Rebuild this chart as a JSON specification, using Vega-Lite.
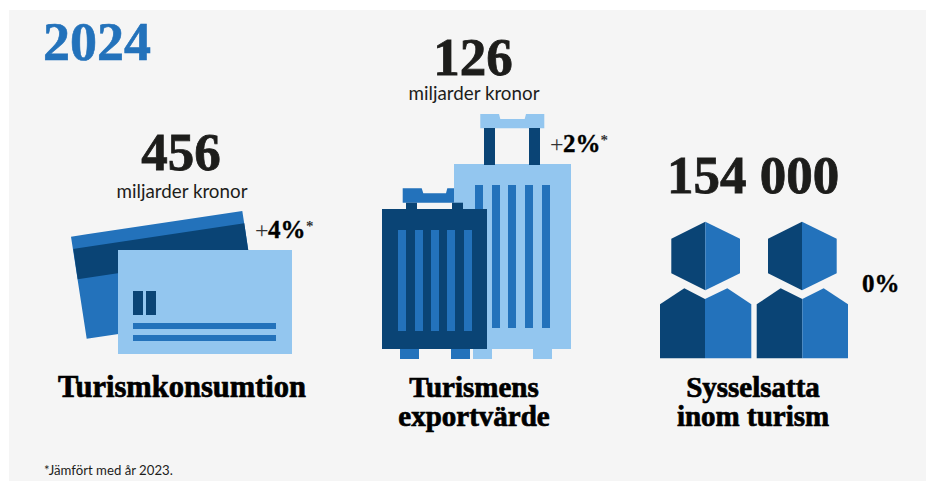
{
"$schema":"https://vega.github.io/schema/vega-lite/v6.json",
"width":926,"height":481,"padding":0,
"autosize":{"type":"fit","contains":"padding"},
"background":"#ffffff",
"view":{"stroke":null},
"config":{"axis":{"domain":false}},
"layer":[
{"data":{"values":[{"part":"panel","x":9,"x2":926,"y":10,"y2":481}]},
 "mark":{"type":"rect","color":"#f5f5f5"},
 "encoding":{
  "x":{"field":"x","type":"quantitative","scale":{"domain":[0,926],"nice":false,"zero":false},"axis":null},
  "x2":{"field":"x2"},
  "y":{"field":"y","type":"quantitative","scale":{"domain":[481,0],"nice":false,"zero":false},"axis":null},
  "y2":{"field":"y2"}}},
{"data":{"values":[
 {"s":"card-back","tone":"mid","x":71,"y":236.7,"y2":236.7},
 {"s":"card-back","tone":"mid","x":86.7,"y":234.35,"y2":338.7},
 {"s":"card-back","tone":"mid","x":242.3,"y":211,"y2":315.4},
 {"s":"card-back","tone":"mid","x":258,"y":313,"y2":313},
 {"s":"card-stripe","tone":"dark","x":73.3,"y":249,"y2":249},
 {"s":"card-stripe","tone":"dark","x":77.7,"y":248.3,"y2":279.3},
 {"s":"card-stripe","tone":"dark","x":244.3,"y":223.3,"y2":254.3},
 {"s":"card-stripe","tone":"dark","x":248.7,"y":253.7,"y2":253.7},
 {"s":"handle-big","tone":"light","x":480.3,"y":114,"y2":128.3},
 {"s":"handle-big","tone":"light","x":499,"y":114,"y2":128.3},
 {"s":"handle-big","tone":"light","x":500.3,"y":119,"y2":128.3},
 {"s":"handle-big","tone":"light","x":524.7,"y":119,"y2":128.3},
 {"s":"handle-big","tone":"light","x":526,"y":114,"y2":128.3},
 {"s":"handle-big","tone":"light","x":544.3,"y":114,"y2":128.3},
 {"s":"handle-small","tone":"mid","x":402.7,"y":188.3,"y2":202.7},
 {"s":"handle-small","tone":"mid","x":421.7,"y":188.3,"y2":202.7},
 {"s":"handle-small","tone":"mid","x":423.3,"y":193.3,"y2":202.7},
 {"s":"handle-small","tone":"mid","x":446,"y":193.3,"y2":202.7},
 {"s":"handle-small","tone":"mid","x":447.3,"y":188.3,"y2":202.7},
 {"s":"handle-small","tone":"mid","x":467,"y":188.3,"y2":202.7},
 {"s":"head1-l","tone":"dark","x":671.3,"y":238.7,"y2":273.3},
 {"s":"head1-l","tone":"dark","x":705.3,"y":221.7,"y2":290.3},
 {"s":"head1-r","tone":"mid","x":705.3,"y":221.7,"y2":290.3},
 {"s":"head1-r","tone":"mid","x":740,"y":238.7,"y2":273.3},
 {"s":"head2-l","tone":"dark","x":768,"y":238.7,"y2":273.3},
 {"s":"head2-l","tone":"dark","x":802,"y":221.7,"y2":290.3},
 {"s":"head2-r","tone":"mid","x":802,"y":221.7,"y2":290.3},
 {"s":"head2-r","tone":"mid","x":836.7,"y":238.7,"y2":273.3},
 {"s":"body1-l","tone":"dark","x":660,"y":304.3,"y2":358.3},
 {"s":"body1-l","tone":"dark","x":684.3,"y":288.3,"y2":358.3},
 {"s":"body1-l","tone":"dark","x":705,"y":299,"y2":358.3},
 {"s":"body1-r","tone":"mid","x":705,"y":299,"y2":358.3},
 {"s":"body1-r","tone":"mid","x":727.3,"y":288.3,"y2":358.3},
 {"s":"body1-r","tone":"mid","x":751.3,"y":304.3,"y2":358.3},
 {"s":"body2-l","tone":"dark","x":756.7,"y":304.3,"y2":358.3},
 {"s":"body2-l","tone":"dark","x":780.7,"y":288.3,"y2":358.3},
 {"s":"body2-l","tone":"dark","x":802.3,"y":299,"y2":358.3},
 {"s":"body2-r","tone":"mid","x":802.3,"y":299,"y2":358.3},
 {"s":"body2-r","tone":"mid","x":823.7,"y":288.3,"y2":358.3},
 {"s":"body2-r","tone":"mid","x":848,"y":304.3,"y2":358.3}
 ]},
 "mark":{"type":"area","orient":"vertical","interpolate":"linear"},
 "encoding":{
  "x":{"field":"x","type":"quantitative","axis":null},
  "y":{"field":"y","type":"quantitative","axis":null},
  "y2":{"field":"y2"},
  "detail":{"field":"s"},
  "color":{"field":"tone","type":"nominal","legend":null,"scale":{"domain":["dark","mid","light"],"range":["#0a4475","#2372bb","#93c6ef"]}}}},
{"data":{"values":[
 {"tone":"light","x":118,"x2":292,"y":250,"y2":354},
 {"tone":"dark","x":133,"x2":143,"y":291,"y2":315},
 {"tone":"dark","x":146,"x2":156,"y":291,"y2":315},
 {"tone":"mid","x":133,"x2":276,"y":323,"y2":329},
 {"tone":"mid","x":133,"x2":276,"y":335,"y2":341},
 {"tone":"light","x":454,"x2":571,"y":164,"y2":349},
 {"tone":"dark","x":484,"x2":495,"y":128,"y2":165},
 {"tone":"dark","x":529,"x2":540,"y":128,"y2":165},
 {"tone":"mid","x":475,"x2":483,"y":185,"y2":328},
 {"tone":"mid","x":492,"x2":500,"y":185,"y2":328},
 {"tone":"mid","x":508,"x2":516,"y":185,"y2":328},
 {"tone":"mid","x":525,"x2":533,"y":185,"y2":328},
 {"tone":"mid","x":542,"x2":550,"y":185,"y2":328},
 {"tone":"light","x":473,"x2":492,"y":349,"y2":359},
 {"tone":"light","x":533,"x2":552,"y":349,"y2":359},
 {"tone":"dark","x":382,"x2":487,"y":209,"y2":349},
 {"tone":"dark","x":406,"x2":417,"y":202.7,"y2":209},
 {"tone":"dark","x":452,"x2":463,"y":202.7,"y2":209},
 {"tone":"mid","x":398,"x2":406,"y":230,"y2":331},
 {"tone":"mid","x":415,"x2":423,"y":230,"y2":331},
 {"tone":"mid","x":431,"x2":439,"y":230,"y2":331},
 {"tone":"mid","x":447,"x2":455,"y":230,"y2":331},
 {"tone":"mid","x":464,"x2":472,"y":230,"y2":331},
 {"tone":"mid","x":400,"x2":419,"y":349,"y2":359},
 {"tone":"mid","x":451,"x2":470,"y":349,"y2":359}
 ]},
 "mark":{"type":"rect"},
 "encoding":{
  "x":{"field":"x","type":"quantitative","axis":null},
  "x2":{"field":"x2"},
  "y":{"field":"y","type":"quantitative","axis":null},
  "y2":{"field":"y2"},
  "color":{"field":"tone","type":"nominal","legend":null,"scale":{"domain":["dark","mid","light"],"range":["#0a4475","#2372bb","#93c6ef"]}}}},
{"data":{"values":[{"t":"2024","x":43,"y":60}]},
 "mark":{"type":"text","font":"Liberation Serif","fontWeight":"bold","fontSize":54,"align":"left","baseline":"alphabetic","color":"#2372bb","stroke":"#2372bb","strokeWidth":0.6},
 "encoding":{"x":{"field":"x","type":"quantitative","axis":null},"y":{"field":"y","type":"quantitative","axis":null},"text":{"field":"t"}}},
{"data":{"values":[{"t":"456","x":181,"y":170},{"t":"126","x":473,"y":75},{"t":"154 000","x":753,"y":193}]},
 "mark":{"type":"text","font":"Liberation Serif","fontWeight":"bold","fontSize":53,"align":"center","baseline":"alphabetic","color":"#1d1d1b","stroke":"#1d1d1b","strokeWidth":0.8},
 "encoding":{"x":{"field":"x","type":"quantitative","axis":null},"y":{"field":"y","type":"quantitative","axis":null},"text":{"field":"t"}}},
{"data":{"values":[{"t":"miljarder kronor","x":182,"y":198},{"t":"miljarder kronor","x":474,"y":100}]},
 "mark":{"type":"text","font":"Lato","fontSize":18.8,"align":"center","baseline":"alphabetic","color":"#1d1d1b"},
 "encoding":{"x":{"field":"x","type":"quantitative","axis":null},"y":{"field":"y","type":"quantitative","axis":null},"text":{"field":"t"}}},
{"data":{"values":[{"t":"Turismkonsumtion","x":182,"y":397}]},
 "mark":{"type":"text","font":"Liberation Serif","fontWeight":"bold","fontSize":30.5,"align":"center","baseline":"alphabetic","color":"#000000","stroke":"#000000","strokeWidth":0.7},
 "encoding":{"x":{"field":"x","type":"quantitative","axis":null},"y":{"field":"y","type":"quantitative","axis":null},"text":{"field":"t"}}},
{"data":{"values":[{"t":"Turismens","x":474,"y":397},{"t":"exportvärde","x":474,"y":426},{"t":"Sysselsatta","x":753,"y":397},{"t":"inom turism","x":753,"y":426}]},
 "mark":{"type":"text","font":"Liberation Serif","fontWeight":"bold","fontSize":29,"align":"center","baseline":"alphabetic","color":"#000000","stroke":"#000000","strokeWidth":0.7},
 "encoding":{"x":{"field":"x","type":"quantitative","axis":null},"y":{"field":"y","type":"quantitative","axis":null},"text":{"field":"t"}}},
{"data":{"values":[{"t":"+","x":255,"y":238},{"t":"+","x":550,"y":151.7}]},
 "mark":{"type":"text","font":"Liberation Serif","fontSize":24,"align":"left","baseline":"alphabetic","color":"#333333"},
 "encoding":{"x":{"field":"x","type":"quantitative","axis":null},"y":{"field":"y","type":"quantitative","axis":null},"text":{"field":"t"}}},
{"data":{"values":[{"t":"4%","x":268,"y":238},{"t":"2%","x":563,"y":151.7},{"t":"0%","x":862,"y":292}]},
 "mark":{"type":"text","font":"Liberation Serif","fontWeight":"bold","fontSize":25,"align":"left","baseline":"alphabetic","color":"#000000","stroke":"#000000","strokeWidth":0.4},
 "encoding":{"x":{"field":"x","type":"quantitative","axis":null},"y":{"field":"y","type":"quantitative","axis":null},"text":{"field":"t"}}},
{"data":{"values":[{"t":"*","x":306,"y":231},{"t":"*","x":600.5,"y":145}]},
 "mark":{"type":"text","font":"Liberation Serif","fontWeight":"bold","fontSize":15,"align":"left","baseline":"alphabetic","color":"#333333"},
 "encoding":{"x":{"field":"x","type":"quantitative","axis":null},"y":{"field":"y","type":"quantitative","axis":null},"text":{"field":"t"}}},
{"data":{"values":[{"t":"*Jämfört med år 2023.","x":44,"y":475}]},
 "mark":{"type":"text","font":"Lato","fontSize":13.2,"align":"left","baseline":"alphabetic","color":"#1d1d1b"},
 "encoding":{"x":{"field":"x","type":"quantitative","axis":null},"y":{"field":"y","type":"quantitative","axis":null},"text":{"field":"t"}}}
]}
